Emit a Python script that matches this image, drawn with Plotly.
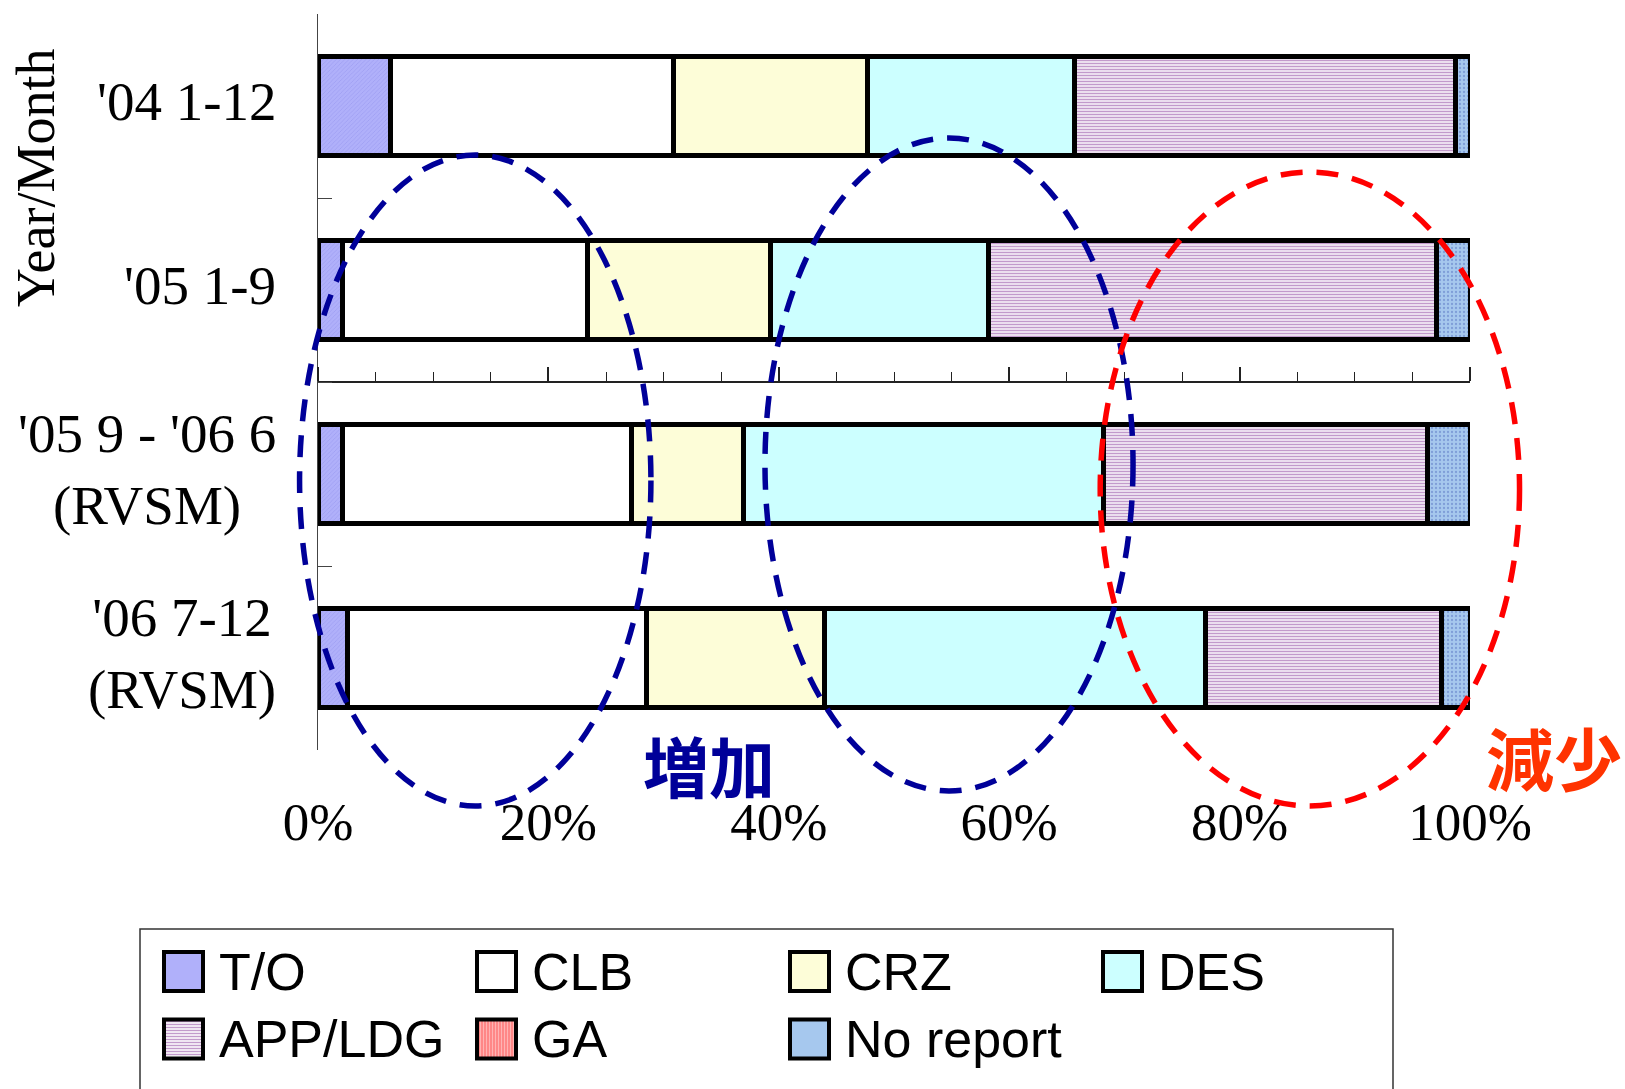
import plotly.graph_objects as go

# ---- data (share of incidents by flight phase, %) ----
categories = ["'04 1-12", "'05 1-9", "'05 9 - '06 6<br>(RVSM)", "'06 7-12<br>(RVSM)"]
phases = ["T/O", "CLB", "CRZ", "DES", "APP/LDG", "GA", "No report"]

to_pct = [6.3, 2.1, 2.1, 2.6]
clb_pct = [24.6, 21.3, 25.1, 25.9]
crz_pct = [16.8, 15.9, 9.7, 15.5]
des_pct = [18.0, 18.9, 31.3, 33.0]
app_pct = [33.0, 38.9, 28.1, 20.5]
ga_pct = [0.0, 0.0, 0.0, 0.0]
nr_pct = [1.3, 2.9, 3.7, 2.5]

x_ticks = [0, 20, 40, 60, 80, 100]
x_tick_text = ["0%", "20%", "40%", "60%", "80%", "100%"]

series = [to_pct, clb_pct, crz_pct, des_pct, app_pct, ga_pct, nr_pct]

# fill colour and pattern of each phase
styles = {
    "T/O": dict(bg="#b0b0fa", fg="#9d9df2", shape="/", size=3, solidity=0.25),
    "CLB": dict(bg="#ffffff", fg=None, shape="", size=4, solidity=0.3),
    "CRZ": dict(bg="#fdfdd8", fg=None, shape="", size=4, solidity=0.3),
    "DES": dict(bg="#ccffff", fg=None, shape="", size=4, solidity=0.3),
    "APP/LDG": dict(bg="#ffffff", fg="#c29acb", shape="-", size=3, solidity=0.55),
    "GA": dict(bg="#ffb3b3", fg="#ff7a7a", shape="|", size=3, solidity=0.5),
    "No report": dict(bg="#a6c8ee", fg="#7f9ed8", shape=".", size=4, solidity=0.25),
}

# ---- page geometry (pixels) ----
W, H = 1625, 1089
ML, MR, MT, MB = 318, 155, 14, 339
PW = W - ML - MR
PH = H - MT - MB
BOTTOM = H - MB

def px_x(px):
    return (px - ML) / PW

def px_y(py):
    return (BOTTOM - py) / PH

SERIF = "Liberation Serif, Times New Roman, serif"
SANS = "Liberation Sans, Arial, sans-serif"
CJK = "Noto Sans CJK JP, sans-serif"

fig = go.Figure()

for name, vals in zip(phases, series):
    st = styles[name]
    pattern = dict(shape=st["shape"], bgcolor=st["bg"], size=st["size"],
                   solidity=st["solidity"], fillmode="replace")
    if st["fg"]:
        pattern["fgcolor"] = st["fg"]
    fig.add_trace(go.Bar(
        name=name,
        y=categories,
        x=vals,
        orientation="h",
        marker=dict(color=st["bg"], line=dict(color="black", width=5), pattern=pattern),
        showlegend=False,
        hoverinfo="skip",
    ))

# invisible trace that carries the mid-plot value axis (line + tick marks)
fig.add_trace(go.Scatter(
    x=[x_ticks[0], x_ticks[-1]], y=[categories[0], categories[0]],
    xaxis="x2", mode="markers", marker=dict(opacity=0),
    showlegend=False, hoverinfo="skip",
))

fig.update_layout(
    width=W, height=H,
    margin=dict(l=ML, r=MR, t=MT, b=MB, pad=0),
    paper_bgcolor="white",
    plot_bgcolor="white",
    barmode="stack",
    bargap=0.46,
    showlegend=False,
    xaxis=dict(
        range=[0, 100],
        tickvals=x_ticks,
        ticktext=x_tick_text,
        tickfont=dict(family=SERIF, size=53, color="black"),
        showline=False, showgrid=False, zeroline=False,
        ticks="outside", ticklen=25, tickcolor="rgba(0,0,0,0)",
    ),
    xaxis2=dict(
        overlaying="x", anchor="free", position=0.5, side="top",
        range=[0, 100], dtick=20, tick0=0,
        showline=True, linecolor="#222", linewidth=1.5,
        ticks="outside", ticklen=14, tickwidth=1.5, tickcolor="#222",
        minor=dict(dtick=5, ticks="outside", ticklen=9, tickwidth=1.2, tickcolor="#222"),
        showticklabels=False, showgrid=False, zeroline=False,
    ),
    yaxis=dict(
        type="category",
        range=[len(categories) - 0.5, -0.5],
        showticklabels=False,
        showline=True, linecolor="#444", linewidth=1.3,
        ticks="inside", tickson="boundaries", ticklen=14, tickcolor="#444",
        showgrid=False, zeroline=False,
    ),
)

# category labels (centred multi-line text, right-aligned block)
for cat in categories:
    fig.add_annotation(
        x=px_x(278), xref="paper", xanchor="right",
        y=cat, yref="y", yanchor="middle", yshift=5,
        text=cat, align="center", showarrow=False,
        font=dict(family=SERIF, size=55, color="black"),
    )

# axis title
fig.add_annotation(
    x=px_x(36), y=px_y(178), xref="paper", yref="paper",
    xanchor="center", yanchor="middle",
    text="Year/Month", textangle=-90, showarrow=False,
    font=dict(family=SERIF, size=54, color="black"),
)

# dashed ellipses highlighting the phases (x in axis %, y in pixels)
ellipses = [
    dict(x0=-1.6, x1=28.9, top=155, bottom=806, color="#000099"),
    dict(x0=38.8, x1=70.75, top=138, bottom=791, color="#000099"),
    dict(x0=67.9, x1=104.3, top=172, bottom=806, color="#ff0000"),
]
for e in ellipses:
    fig.add_shape(
        type="circle", xref="paper", yref="paper",
        x0=e["x0"] / 100, x1=e["x1"] / 100,
        y0=px_y(e["bottom"]), y1=px_y(e["top"]),
        line=dict(color=e["color"], width=5.5, dash="22px,14px"),
        fillcolor="rgba(0,0,0,0)", layer="above",
    )

fig.add_annotation(
    x=px_x(709), y=px_y(764), xref="paper", yref="paper",
    xanchor="center", yanchor="middle",
    text="<b>増加</b>", showarrow=False,
    font=dict(family=CJK, size=66, color="#000099"),
)
fig.add_annotation(
    x=px_x(1484), y=px_y(756), xref="paper", yref="paper",
    xanchor="left", yanchor="middle",
    text="<b>減少</b>", showarrow=False,
    font=dict(family=CJK, size=68, color="#ff3300"),
)

# ---- legend box drawn below the chart ----
fig.add_shape(
    type="rect", xref="paper", yref="paper",
    x0=px_x(140), x1=px_x(1393), y0=px_y(1110), y1=px_y(929),
    line=dict(color="#333", width=1.5), fillcolor="rgba(0,0,0,0)",
)

SW = 39
COL0, COLSTEP = 164, 313
ROW0, ROWSTEP = 952, 67.5
for i, name in enumerate(phases):
    st = styles[name]
    col, row = i % 4, i // 4
    left = COL0 + col * COLSTEP
    top = ROW0 + row * ROWSTEP
    fig.add_shape(
        type="rect", xref="paper", yref="paper",
        x0=px_x(left), x1=px_x(left + SW), y0=px_y(top + SW), y1=px_y(top),
        fillcolor=st["bg"], line=dict(width=0),
    )
    # stripe texture inside the swatch
    if st["shape"] in ("-", "|"):
        segs = []
        step = 3
        if st["shape"] == "-":
            yy = top + 2
            while yy < top + SW - 1:
                segs.append(f"M{px_x(left)},{px_y(yy)} L{px_x(left + SW)},{px_y(yy)}")
                yy += step
        else:
            xx = left + 2
            while xx < left + SW - 1:
                segs.append(f"M{px_x(xx)},{px_y(top)} L{px_x(xx)},{px_y(top + SW)}")
                xx += step
        fig.add_shape(type="path", xref="paper", yref="paper", path=" ".join(segs),
                      line=dict(color=st["fg"], width=1.5))
    fig.add_shape(
        type="rect", xref="paper", yref="paper",
        x0=px_x(left), x1=px_x(left + SW), y0=px_y(top + SW), y1=px_y(top),
        line=dict(color="black", width=4), fillcolor="rgba(0,0,0,0)",
    )
    fig.add_annotation(
        x=px_x(left + 53), y=px_y(top + SW / 2), xref="paper", yref="paper",
        xanchor="left", yanchor="middle", text=name, showarrow=False,
        font=dict(family=SANS, size=52, color="black"),
    )

fig.write_html("out.html")
